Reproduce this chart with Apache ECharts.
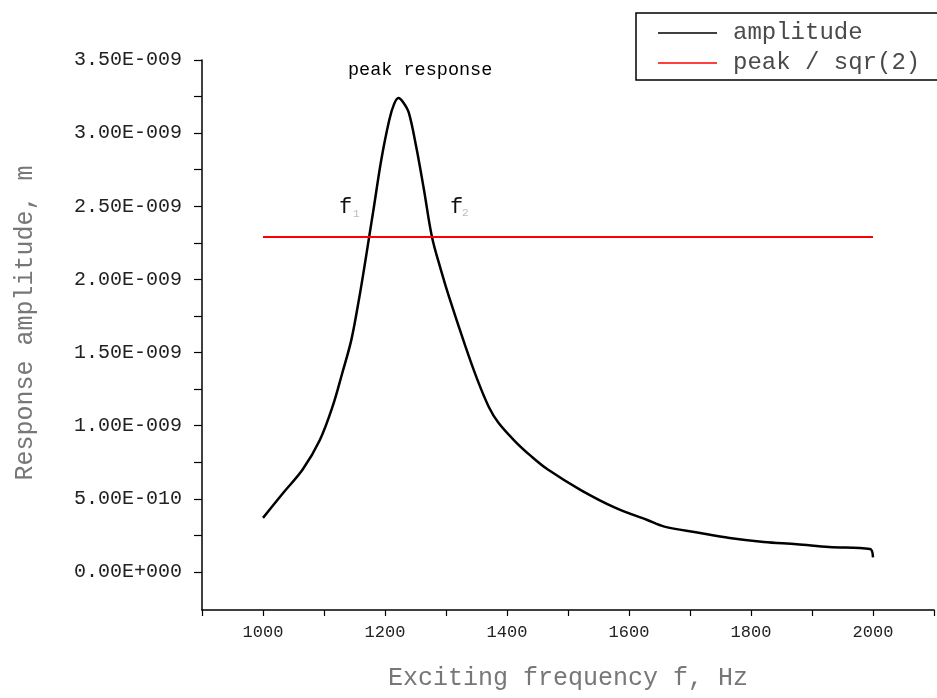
<!DOCTYPE html>
<html>
<head>
<meta charset="utf-8">
<script src="https://cdn.jsdelivr.net/npm/echarts@6/dist/echarts.min.js"></script>
<style>
  html, body { margin: 0; padding: 0; background: #fff; }
  #chart { width: 937px; height: 698px; }
</style>
</head>
<body>
<div id="chart"></div>
<script>
const freqHz = [1000, 1033, 1065, 1093, 1114, 1130, 1145, 1158, 1166, 1174, 1182, 1194, 1207, 1215, 1222,
  1230, 1239, 1251, 1264, 1277, 1292, 1305, 1332, 1350, 1370, 1386, 1414, 1440, 1467, 1521, 1577,
  1630, 1658, 1712, 1765, 1821, 1875, 1928, 1995, 2000]
const amplitude = [0.37e-9, 0.54e-9, 0.70e-9, 0.90e-9, 1.13e-9, 1.36e-9, 1.59e-9, 1.88e-9, 2.08e-9, 2.29e-9,
  2.50e-9, 2.82e-9, 3.09e-9, 3.20e-9, 3.24e-9, 3.21e-9, 3.14e-9, 2.91e-9, 2.61e-9, 2.29e-9, 2.06e-9,
  1.88e-9, 1.54e-9, 1.33e-9, 1.13e-9, 1.02e-9, 0.89e-9, 0.79e-9, 0.70e-9, 0.56e-9, 0.44e-9,
  0.355e-9, 0.31e-9, 0.27e-9, 0.232e-9, 0.205e-9, 0.19e-9, 0.171e-9, 0.157e-9, 0.10e-9]

// peak / sqr(2) reference line
const levelFreq = [1000, 2000]
const levelAmp = [2.29e-9, 2.29e-9]

// axis ticks
const yLabelValues = [0, 0.5e-9, 1.0e-9, 1.5e-9, 2.0e-9, 2.5e-9, 3.0e-9, 3.5e-9]
const yTickValues = [0, 0.25e-9, 0.5e-9, 0.75e-9, 1.0e-9, 1.25e-9, 1.5e-9, 1.75e-9, 2.0e-9,
  2.25e-9, 2.5e-9, 2.75e-9, 3.0e-9, 3.25e-9, 3.5e-9]
const xLabelValues = [1000, 1200, 1400, 1600, 1800, 2000]

const FONT = '"Liberation Mono", "DejaVu Sans Mono", monospace'

const sci = v => {
  const [m, e] = v.toExponential(2).split('e')
  const sign = e[0] === '-' ? '-' : '+'
  return m + 'E' + sign + String(Math.abs(parseInt(e, 10))).padStart(3, '0')
}

const chart = echarts.init(document.getElementById('chart'), null, { renderer: 'canvas' })

const option = {
  backgroundColor: '#fff',
  animation: false,
  grid: { left: 202, right: 0, top: 60, bottom: 88 },
  legend: {
    orient: 'vertical',
    left: 636,
    top: 13,
    padding: [8, 20, 5, 22],
    itemGap: 6,
    itemWidth: 59,
    itemHeight: 1.5,
    icon: 'rect',
    borderColor: '#000',
    borderWidth: 1.5,
    textStyle: {
      fontFamily: FONT,
      fontSize: 24,
      lineHeight: 24,
      color: '#4a4a4a',
      padding: [0, 0, 0, 11]
    },
    data: ['amplitude', 'peak / sqr(2)']
  },
  xAxis: {
    type: 'value',
    min: 900,
    max: 2100,
    interval: 100,
    name: 'Exciting frequency f, Hz',
    nameLocation: 'middle',
    nameGap: 56,
    nameTextStyle: { fontFamily: FONT, fontSize: 25, color: '#777' },
    axisLine: { onZero: false, lineStyle: { color: '#000', width: 1.5 } },
    axisTick: { inside: false, length: 6, lineStyle: { color: '#000', width: 1.2 } },
    axisLabel: {
      margin: 14,
      fontFamily: FONT,
      fontSize: 17,
      color: '#222',
      formatter: v => (xLabelValues.includes(v) ? String(v) : '')
    },
    splitLine: { show: false }
  },
  yAxis: {
    type: 'value',
    min: -0.26e-9,
    max: 3.5e-9,
    name: 'Response amplitude, m',
    nameLocation: 'middle',
    nameGap: 164,
    nameTextStyle: { fontFamily: FONT, fontSize: 25, color: '#777', padding: [0, 0, 0, 24] },
    axisLine: { show: true, onZero: false, lineStyle: { color: '#000', width: 1.5 } },
    axisTick: { length: 8, customValues: yTickValues, lineStyle: { color: '#000', width: 1.2 } },
    axisLabel: {
      margin: 20,
      fontFamily: FONT,
      fontSize: 20,
      color: '#222',
      customValues: yLabelValues,
      formatter: v => sci(v)
    },
    splitLine: { show: false }
  },
  graphic: [
    { type: 'text', left: 348, top: 61, style: { text: 'peak response', font: '18.5px ' + FONT, fill: '#000' } },
    { type: 'text', left: 339, top: 196, style: { text: 'f', font: '22px ' + FONT, fill: '#111' } },
    { type: 'text', left: 353, top: 209, style: { text: '1', font: '11px ' + FONT, fill: '#bbb' } },
    { type: 'text', left: 450, top: 196, style: { text: 'f', font: '22px ' + FONT, fill: '#111' } },
    { type: 'text', left: 462, top: 208, style: { text: '2', font: '11px ' + FONT, fill: '#bbb' } }
  ],
  series: [
    {
      name: 'amplitude',
      type: 'line',
      symbol: 'none',
      smooth: 0.35,
      lineStyle: { color: '#000', width: 2.5 },
      itemStyle: { color: '#000' },
      data: freqHz.map((f, i) => [f, amplitude[i]])
    },
    {
      name: 'peak / sqr(2)',
      type: 'line',
      symbol: 'none',
      lineStyle: { color: '#ff0000', width: 2 },
      itemStyle: { color: '#ff0000' },
      data: levelFreq.map((f, i) => [f, levelAmp[i]])
    }
  ]
}

chart.setOption(option)
</script>
</body>
</html>
